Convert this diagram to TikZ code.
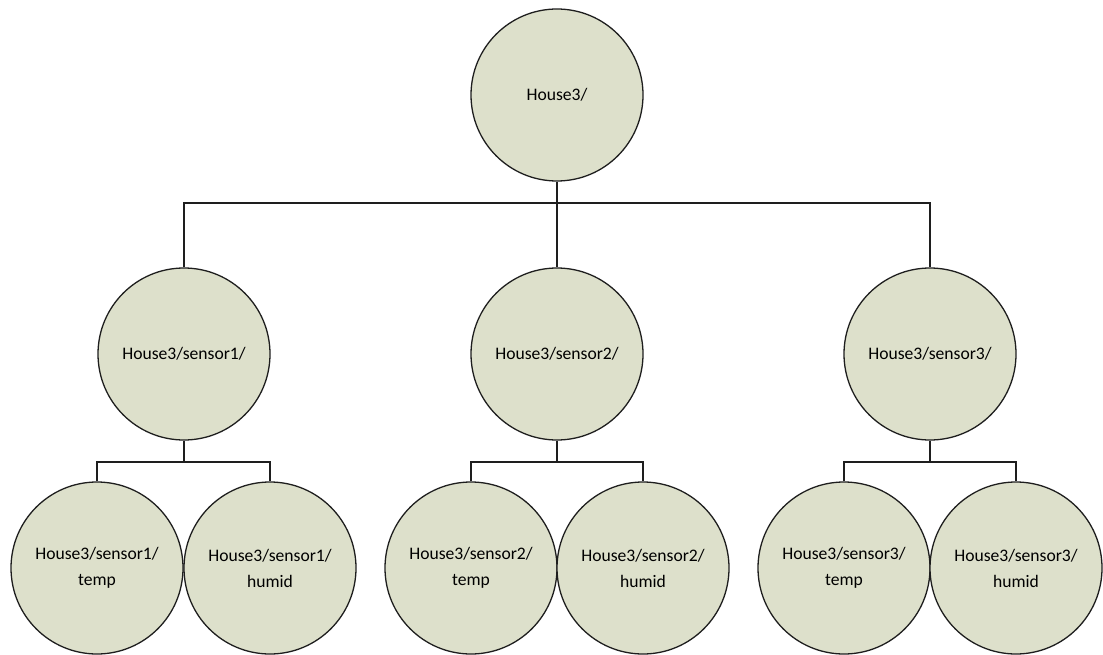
\documentclass[tikz,border=0pt]{standalone}
\usepackage{fontspec}
\setmainfont{Carlito}
\definecolor{nodefill}{RGB}{221,224,203}
\definecolor{edge}{RGB}{30,30,30}
\begin{document}
\begin{tikzpicture}[x=1pt,y=-1pt,
  bubble/.style={circle,draw=edge,line width=1.3pt,fill=nodefill,minimum size=172pt,inner sep=0pt,align=center,font=\fontsize{17.6}{26}\selectfont},
  link/.style={draw=edge,line width=1.3pt}]
\useasboundingbox (0,0) rectangle (1103,655);
\node[bubble] (root) at (557,95) {House3/};
\node[bubble] (s1) at (184,354) {House3/sensor1/};
\node[bubble] (s2) at (557,354) {House3/sensor2/};
\node[bubble] (s3) at (930,354) {House3/sensor3/};
\node[bubble] (s1t) at (97,568) {House3/sensor1/\\temp};
\node[bubble] (s1h) at (270,568) {House3/sensor1/\\humid};
\node[bubble] (s2t) at (471,568) {House3/sensor2/\\temp};
\node[bubble] (s2h) at (643,568) {House3/sensor2/\\humid};
\node[bubble] (s3t) at (844,568) {House3/sensor3/\\temp};
\node[bubble] (s3h) at (1016,568) {House3/sensor3/\\humid};
\coordinate (bus) at (557,203);
\coordinate (b1) at (184,462);
\coordinate (b2) at (557,462);
\coordinate (b3) at (930,462);
\draw[link] (s1.north) |- (bus) -| (s3.north);
\draw[link] (root.south) -- (s2.north);
\draw[link] (s1t.north) |- (b1) -| (s1h.north);
\draw[link] (s1.south) -- (b1);
\draw[link] (s2t.north) |- (b2) -| (s2h.north);
\draw[link] (s2.south) -- (b2);
\draw[link] (s3t.north) |- (b3) -| (s3h.north);
\draw[link] (s3.south) -- (b3);
\end{tikzpicture}
\end{document}
